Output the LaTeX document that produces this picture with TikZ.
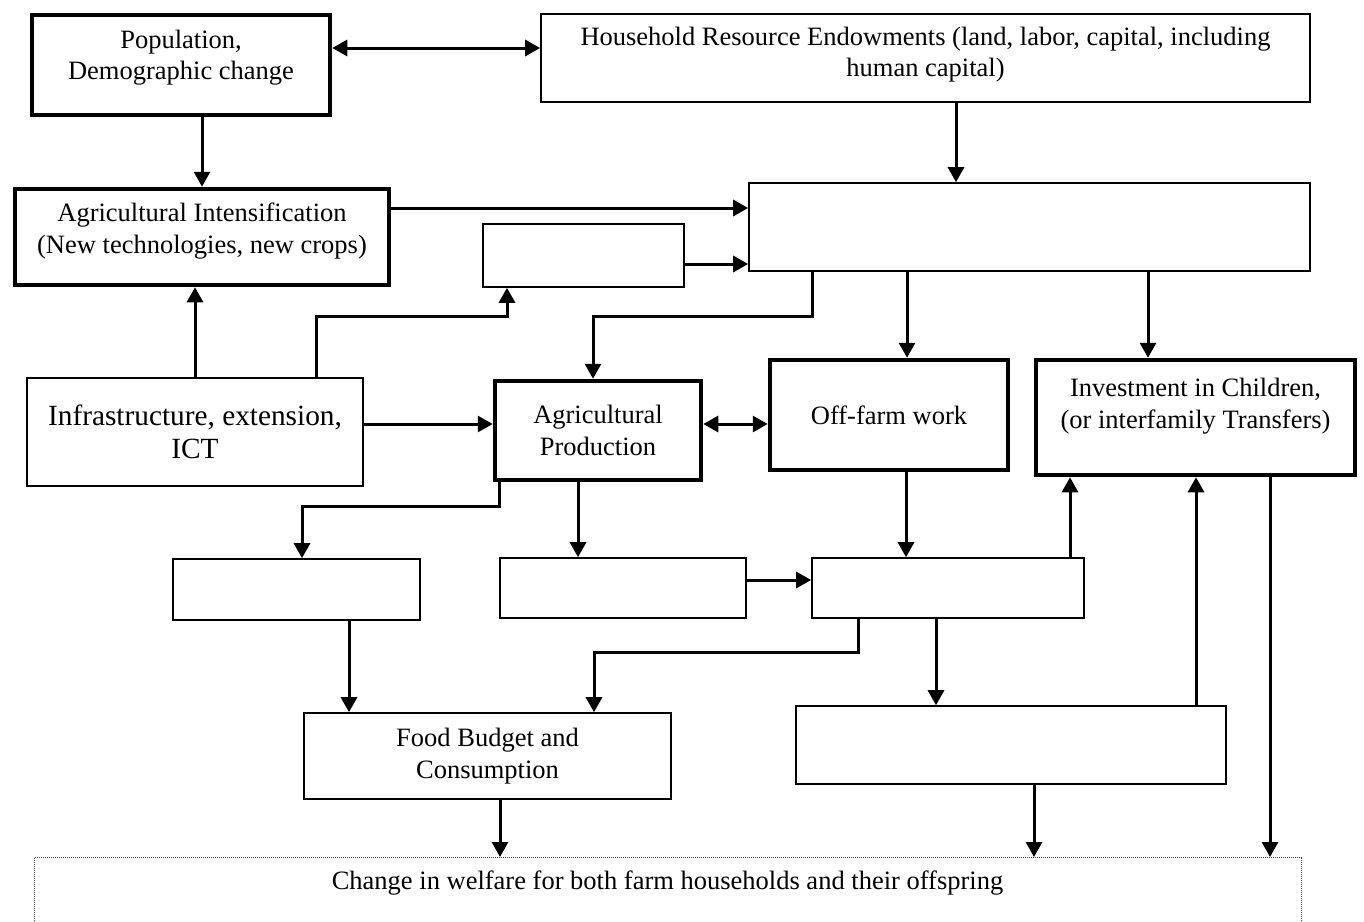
\documentclass[tikz,border=0pt]{standalone}
\usepackage{fontspec}
\setmainfont{Liberation Serif}
\usetikzlibrary{arrows.meta}
\begin{document}
\begin{tikzpicture}[x=1pt,y=-1pt,
  base/.style={inner sep=0pt, align=center, font=\fontsize{26.5}{31.5}\selectfont},
  thinbox/.style={base, draw, line width=1.6pt},
  thickbox/.style={base, draw, line width=4.5pt},
  conn/.style={line width=3pt},
  arr/.style={conn, -{Triangle[length=15pt,width=16pt]}},
  darr/.style={conn, {Triangle[length=15pt,width=16pt]}-{Triangle[length=15pt,width=16pt]}},
  dottedbox/.style={base, draw=black!75, line width=1pt, dash pattern=on 1pt off 1pt}
]
\useasboundingbox (0,0) rectangle (1364,921);

% boxes
\node[thickbox, minimum width=298pt, minimum height=100pt, text depth=20.75pt] (pop) at (181,65) {Population,\\Demographic change};
\node[thinbox, minimum width=769pt, minimum height=88pt, text depth=12.75pt] (hre) at (925.5,58) {Household Resource Endowments (land, labor, capital, including\\human capital)};
\node[thickbox, minimum width=374pt, minimum height=96pt, text depth=17.75pt] (ai) at (202,237) {Agricultural Intensification\\(New technologies, new crops)};
\node[thinbox, minimum width=561pt, minimum height=88pt] (big) at (1029.5,227) {};
\node[thinbox, minimum width=201pt, minimum height=63pt] (small) at (583.5,255.5) {};
\node[thinbox, minimum width=336pt, minimum height=108pt, font=\fontsize{29.3}{33}\selectfont] (infra) at (195,432) {Infrastructure, extension,\\ICT};
\node[thickbox, minimum width=206pt, minimum height=99pt] (agprod) at (598,430.5) {Agricultural\\Production};
\node[thickbox, minimum width=238pt, minimum height=110pt] (off) at (889,415) {Off-farm work};
\node[thickbox, minimum width=319pt, minimum height=115pt, text depth=28.75pt] (inv) at (1195.5,417.5) {Investment in Children,\\(or interfamily Transfers)};
\node[thinbox, minimum width=247pt, minimum height=61pt] (boxa) at (296.5,589.5) {};
\node[thinbox, minimum width=246pt, minimum height=60pt] (boxb) at (623,588) {};
\node[thinbox, minimum width=272pt, minimum height=60pt] (boxc) at (948,588) {};
\node[thinbox, minimum width=367pt, minimum height=86pt] (food) at (487.5,756) {Food Budget and\\Consumption};
\node[thinbox, minimum width=430pt, minimum height=78pt] (boxd) at (1011,745) {};
\node[dottedbox, anchor=north, minimum width=1267pt, text height=32pt, text depth=100pt] (welf) at (667.5,857) {Change in welfare for both farm households and their offspring};

% connectors
\draw[darr] (pop.east |- 0,48) -- (hre.west |- 0,48);
\draw[arr] (202,0 |- pop.south) -- (202,0 |- ai.north);
\draw[arr] (956,0 |- hre.south) -- (956,0 |- big.north);
\draw[arr] (ai.east |- 0,208) -- (big.west |- 0,208);
\draw[arr] (small.east |- 0,264) -- (big.west |- 0,264);
\draw[arr] (195,0 |- infra.north) -- (195,0 |- ai.south);
\draw[arr] (316,0 |- infra.north) |- (507,316) -- (507,0 |- small.south);
\draw[arr] (infra.east |- 0,424) -- (agprod.west |- 0,424);
\draw[arr] (812,0 |- big.south) |- (593,316) -- (593,0 |- agprod.north);
\draw[arr] (907,0 |- big.south) -- (907,0 |- off.north);
\draw[arr] (1148,0 |- big.south) -- (1148,0 |- inv.north);
\draw[darr] (agprod.east |- 0,424) -- (off.west |- 0,424);
\draw[arr] (499,0 |- agprod.south) |- (302,506) -- (302,0 |- boxa.north);
\draw[arr] (578,0 |- agprod.south) -- (578,0 |- boxb.north);
\draw[arr] (906,0 |- off.south) -- (906,0 |- boxc.north);
\draw[arr] (boxb.east |- 0,580) -- (boxc.west |- 0,580);
\draw[arr] (1070,0 |- boxc.north) -- (1070,0 |- inv.south);
\draw[arr] (349,0 |- boxa.south) -- (349,0 |- food.north);
\draw[arr] (858,0 |- boxc.south) |- (594,652) -- (594,0 |- food.north);
\draw[arr] (936,0 |- boxc.south) -- (936,0 |- boxd.north);
\draw[arr] (1196,0 |- boxd.north) -- (1196,0 |- inv.south);
\draw[arr] (1270,0 |- inv.south) -- (1270,0 |- welf.north);
\draw[arr] (500,0 |- food.south) -- (500,0 |- welf.north);
\draw[arr] (1034,0 |- boxd.south) -- (1034,0 |- welf.north);
\end{tikzpicture}
\end{document}
